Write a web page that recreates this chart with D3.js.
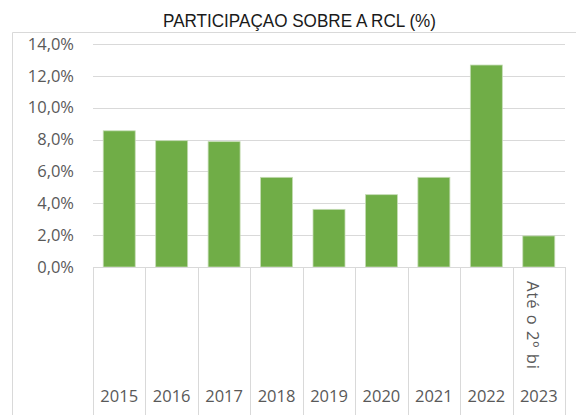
<!DOCTYPE html>
<html>
<head>
<meta charset="utf-8">
<script src="https://cdn.jsdelivr.net/npm/d3@7"></script>
<style>
  body { margin: 0; background: #fff; }
  svg { display: block; }
  .tick-label { font-family: "Open Sans", sans-serif; font-size: 16.5px; fill: #595959; }
  .title { font-family: "Liberation Sans Narrow", "Arial Narrow", "Liberation Sans", sans-serif; font-size: 18px; fill: #1a1a1a; }
</style>
</head>
<body>
<div id="chart-container"><svg></svg></div>
<script>
const years = ["2015", "2016", "2017", "2018", "2019", "2020", "2021", "2022", "2023"];
const subLabels = ["", "", "", "", "", "", "", "", "Até o 2º bi"];
const values = [8.55, 7.93, 7.87, 5.63, 3.62, 4.54, 5.63, 12.68, 1.95];
const yTicks = [0, 2, 4, 6, 8, 10, 12, 14];

const chartSize = {width: 576, height: 415};
const margin = {left: 93, right: 11, top: 44, bottom: 148};

const width = chartSize.width - margin.left - margin.right;
const height = chartSize.height - margin.top - margin.bottom;

const fmt = v => v.toFixed(1).replace(".", ",") + "%";

const svg = d3.select("#chart-container svg")
  .attr("width", chartSize.width)
  .attr("height", chartSize.height);

// chart area border
svg.append("path")
  .attr("d", `M12.5,${chartSize.height + 2} V32.5 H${chartSize.width + 2}`)
  .attr("fill", "none")
  .attr("stroke", "#d9d9d9");

// title is set in a condensed face in the original
svg.append("text")
  .attr("class", "title")
  .attr("x", 163)
  .attr("y", 27)
  .attr("textLength", 273)
  .attr("lengthAdjust", "spacingAndGlyphs")
  .text("PARTICIPAÇAO SOBRE A RCL (%)");

const g = svg.append("g")
  .attr("transform", `translate(${margin.left},${margin.top})`);

const x = d3.scaleBand()
  .domain(years)
  .range([0, width])
  .paddingInner(0.39)
  .paddingOuter(0.195);

const y = d3.scaleLinear()
  .domain([0, 14])
  .range([height, 0]);

// gridlines
g.selectAll(".grid")
  .data(yTicks.filter(t => t > 0))
  .join("line")
  .attr("class", "grid")
  .attr("x1", 0)
  .attr("x2", width)
  .attr("y1", d => Math.round(y(d)) + 0.5)
  .attr("y2", d => Math.round(y(d)) + 0.5)
  .attr("stroke", "#d9d9d9")
  .attr("stroke-width", 1);

// y labels
g.selectAll(".ylab")
  .data(yTicks)
  .join("text")
  .attr("class", "tick-label")
  .attr("x", -19)
  .attr("y", d => y(d))
  .attr("dy", "0.35em")
  .attr("text-anchor", "end")
  .text(fmt);

// bars
g.selectAll(".bar")
  .data(values)
  .join("rect")
  .attr("class", "bar")
  .attr("x", (d, i) => x(years[i]))
  .attr("width", x.bandwidth())
  .attr("y", d => y(d))
  .attr("height", d => y(0) - y(d))
  .attr("fill", "#70ad47")
  .attr("stroke", "#c5dcb5")
  .attr("stroke-width", 0.8);

// baseline and category separators
const step = x.step();
g.append("line")
  .attr("x1", 0).attr("x2", width)
  .attr("y1", Math.round(y(0)) + 0.5).attr("y2", Math.round(y(0)) + 0.5)
  .attr("stroke", "#d9d9d9");

g.selectAll(".sep")
  .data(d3.range(years.length + 1))
  .join("line")
  .attr("class", "sep")
  .attr("x1", i => Math.round(i * step) + 0.5)
  .attr("x2", i => Math.round(i * step) + 0.5)
  .attr("y1", y(0))
  .attr("y2", chartSize.height)
  .attr("stroke", "#d9d9d9");

// year labels
g.selectAll(".xlab")
  .data(years)
  .join("text")
  .attr("class", "tick-label")
  .attr("x", d => x(d) + x.bandwidth() / 2)
  .attr("y", height + 135)
  .attr("text-anchor", "middle")
  .text(d => d);

// inner level labels (rotated)
g.selectAll(".sublab")
  .data(subLabels.map((s, i) => ({s, year: years[i]})).filter(d => d.s))
  .join("text")
  .attr("class", "tick-label")
  .attr("transform", d => `translate(${x(d.year) + x.bandwidth() / 2 - 6},${height + 14}) rotate(90)`)
  .attr("dy", "0.35em")
  .attr("text-anchor", "start")
  .attr("textLength", 88)
  .attr("lengthAdjust", "spacing")
  .text(d => d.s);
</script>
</body>
</html>
